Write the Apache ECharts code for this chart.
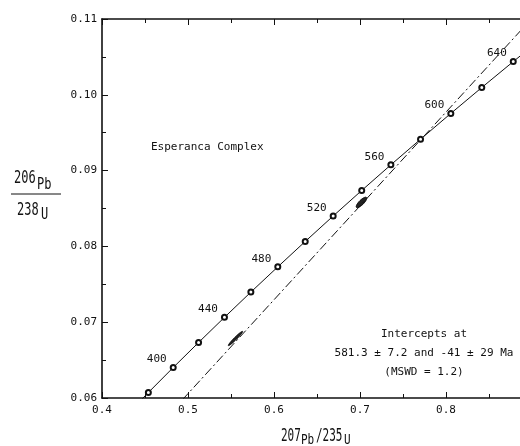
<!DOCTYPE html>
<html>
<head>
<meta charset="utf-8">
<script src="https://cdn.jsdelivr.net/npm/echarts@6/dist/echarts.min.js"></script>
<style>html,body{margin:0;padding:0;background:#fff}#c{width:520px;height:446px}</style>
</head>
<body>
<div id="c"></div>
<script>
// Concordia points (every 20 Ma)
var concAges = [360, 380, 400, 420, 440, 460, 480, 500, 520, 540, 560, 580, 600, 620, 640, 660];
var concX = [0.4255, 0.4539, 0.4828, 0.5123, 0.5424, 0.5731, 0.6044, 0.6363, 0.6688, 0.7020, 0.7359, 0.7704, 0.8056, 0.8416, 0.8782, 0.9155];
var concY = [0.05743, 0.06072, 0.06402, 0.06732, 0.07064, 0.07397, 0.07730, 0.08065, 0.08401, 0.08738, 0.09076, 0.09414, 0.09754, 0.10096, 0.10438, 0.10781];
var labeledAges = [400, 440, 480, 520, 560, 600, 640];
// Discordia (dash-dot) line
var discX = [0.480, 0.900];
var discY = [0.0581, 0.1101];
// Data ellipses: centre, half-widths, correlation
var ellCx = [0.7017, 0.5552];
var ellCy = [0.0858, 0.06785];
var ellSx = [0.0061, 0.0083];
var ellSy = [0.00069, 0.00094];
var ellRho = [0.80, 0.97];
// Tick labels
var xTicks = [0.4, 0.5, 0.6, 0.7, 0.8, 0.9];
var xTickLabels = ['0.4', '0.5', '0.6', '0.7', '0.8', '0.9'];
var yTicks = [0.06, 0.07, 0.08, 0.09, 0.10, 0.11];
var yTickLabels = ['0.06', '0.07', '0.08', '0.09', '0.10', '0.11'];

var FONT = 'DejaVu Sans Mono';
var INK = '#111';

function lookup(ticks, labels, v) {
  for (var i = 0; i < ticks.length; i++) if (Math.abs(ticks[i] - v) < 1e-6) return labels[i];
  return '';
}

var concData = concAges.map(function (a, i) {
  return {
    value: [concX[i], concY[i]],
    label: { show: labeledAges.indexOf(a) >= 0, formatter: String(a) }
  };
});
var discData = discX.map(function (x, i) { return [x, discY[i]]; });
var ellData = ellCx.map(function (c, i) { return [c, ellCy[i], ellSx[i], ellSy[i], ellRho[i]]; });

var axisCommon = {
  type: 'value',
  axisLine: { show: true, lineStyle: { color: INK, width: 1.6 } },
  axisTick: { show: true, inside: true, length: 6, lineStyle: { color: INK, width: 1 } },
  minorTick: { show: true, splitNumber: 2, length: 4, lineStyle: { color: INK, width: 1 } },
  splitLine: { show: false }
};

var chart = echarts.init(document.getElementById('c'), null, { renderer: 'canvas' });
chart.setOption({
  animation: false,
  backgroundColor: '#fff',
  grid: { left: 102, top: 19, width: 430, height: 379, containLabel: false, outerBoundsMode: 'none' },
  xAxis: [
    Object.assign({}, axisCommon, {
      min: 0.4, max: 0.9, interval: 0.1, position: 'bottom',
      axisLabel: { color: INK, fontFamily: FONT, fontSize: 11, margin: 7,
        formatter: function (v) { return lookup(xTicks, xTickLabels, v); } }
    }),
    Object.assign({}, axisCommon, {
      min: 0.4, max: 0.9, interval: 0.1, position: 'top',
      axisLabel: { show: false }
    })
  ],
  yAxis: [
    Object.assign({}, axisCommon, {
      min: 0.06, max: 0.11, interval: 0.01, position: 'left',
      axisLabel: { color: INK, fontFamily: FONT, fontSize: 11, margin: 5,
        formatter: function (v) { return lookup(yTicks, yTickLabels, v); } }
    })
  ],
  series: [
    {
      type: 'line', xAxisIndex: 0, yAxisIndex: 0, clip: true,
      data: discData, showSymbol: false, symbol: 'none',
      lineStyle: { color: INK, width: 1, type: [9, 3, 2, 3] }
    },
    {
      type: 'custom', xAxisIndex: 0, yAxisIndex: 0, clip: true,
      data: ellData,
      encode: { x: 0, y: 1 },
      renderItem: function (params, api) {
        var cx = api.value(0), cy = api.value(1), sx = api.value(2), sy = api.value(3), r = api.value(4);
        var pts = [];
        var n = 48;
        for (var k = 0; k < n; k++) {
          var t = 2 * Math.PI * k / n;
          var dx = sx * Math.cos(t);
          var dy = sy * (r * Math.cos(t) + Math.sqrt(1 - r * r) * Math.sin(t));
          pts.push(api.coord([cx + dx, cy + dy]));
        }
        return { type: 'polygon', shape: { points: pts },
          style: { fill: '#222', stroke: '#000', lineWidth: 1 } };
      }
    },
    {
      type: 'line', xAxisIndex: 0, yAxisIndex: 0, clip: true,
      data: concData,
      symbol: 'emptyCircle', symbolSize: 5, showAllSymbol: true,
      itemStyle: { color: INK, borderWidth: 0.8 },
      lineStyle: { color: INK, width: 1 },
      label: { position: 'left', distance: 3, offset: [0, -8], color: INK,
        fontFamily: FONT, fontSize: 11 }
    }
  ],
  graphic: [
    { type: 'text', x: 151, y: 147, style: { text: 'Esperanca Complex', font: '11px "' + FONT + '"',
      fill: INK, textAlign: 'left', textVerticalAlign: 'middle' } },
    { type: 'text', x: 424, y: 334, style: { text: 'Intercepts at', font: '11px "' + FONT + '"',
      fill: INK, textAlign: 'center', textVerticalAlign: 'middle' } },
    { type: 'text', x: 424, y: 353, style: { text: '581.3 \u00b1 7.2 and -41 \u00b1 29 Ma', font: '11px "' + FONT + '"',
      fill: INK, textAlign: 'center', textVerticalAlign: 'middle' } },
    { type: 'text', x: 424, y: 372, style: { text: '(MSWD = 1.2)', font: '11px "' + FONT + '"',
      fill: INK, textAlign: 'center', textVerticalAlign: 'middle' } },
    // y-axis title 206Pb / 238U
    { type: 'text', x: 14, y: 170, scaleY: 1.45, style: { text: '206', font: '12px "' + FONT + '"', fill: INK, textVerticalAlign: 'top' } },
    { type: 'text', x: 37, y: 178, scaleY: 1.25, style: { text: 'Pb', font: '12px "' + FONT + '"', fill: INK, textVerticalAlign: 'top' } },
    { type: 'line', shape: { x1: 11, y1: 194, x2: 61, y2: 194 }, style: { stroke: INK, lineWidth: 1 } },
    { type: 'text', x: 17, y: 202, scaleY: 1.45, style: { text: '238', font: '12px "' + FONT + '"', fill: INK, textVerticalAlign: 'top' } },
    { type: 'text', x: 41, y: 208, scaleY: 1.25, style: { text: 'U', font: '12px "' + FONT + '"', fill: INK, textVerticalAlign: 'top' } },
    // x-axis title 207Pb/235U
    { type: 'text', x: 281, y: 428, scaleY: 1.55, style: { text: '207', font: '11px "' + FONT + '"', fill: INK, textVerticalAlign: 'top' } },
    { type: 'text', x: 301, y: 433, scaleY: 1.3, style: { text: 'Pb', font: '11px "' + FONT + '"', fill: INK, textVerticalAlign: 'top' } },
    { type: 'text', x: 316, y: 428, scaleY: 1.55, style: { text: '/235', font: '11px "' + FONT + '"', fill: INK, textVerticalAlign: 'top' } },
    { type: 'text', x: 344, y: 433, scaleY: 1.3, style: { text: 'U', font: '11px "' + FONT + '"', fill: INK, textVerticalAlign: 'top' } }
  ]
});
</script>
</body>
</html>
